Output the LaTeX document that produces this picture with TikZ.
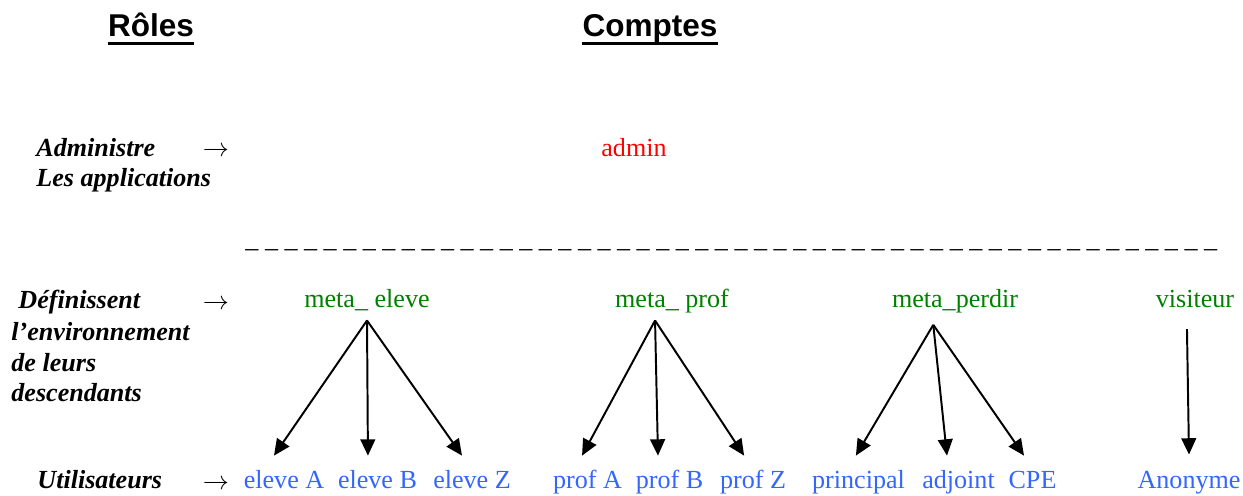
\documentclass[tikz,border=0pt]{standalone}
\usepackage{fontspec}
\setmainfont{Liberation Serif}
\newfontfamily\titrefont{Liberation Sans}
\usetikzlibrary{arrows.meta}
\definecolor{vert}{HTML}{008000}
\definecolor{bleu}{HTML}{3366FF}
\newcommand\corps{\fontsize{12}{14}\selectfont}
\tikzset{
  titre/.style={anchor=base, inner sep=0pt, font=\titrefont\bfseries\fontsize{14.5}{17}\selectfont},
  role/.style={anchor=base west, inner sep=0pt, font=\corps\bfseries\itshape},
  sens/.style={anchor=base, inner sep=0pt, font=\fontsize{13}{15}\selectfont},
  compte/.style={anchor=base, inner xsep=0pt, text height=8pt, text depth=2pt},
  meta/.style={compte, text=vert, inner ysep=4pt},
  util/.style={compte, text=bleu, inner ysep=6.7pt},
  fleche/.style={-{Triangle[length=7.5pt,width=6.8pt]}, line width=0.9pt}
}
\begin{document}
\begin{tikzpicture}[x=0.46pt,y=-0.46pt,font=\corps]
\useasboundingbox (0,0) rectangle (1243,496);
%titres
\node[titre] (ro) at (151,37) {Rôles};
\node[titre] (co) at (650,37) {Comptes};
\draw[line width=1.4pt] ([yshift=-3pt]ro.base west) -- ([yshift=-3pt]ro.base east);
\draw[line width=1.4pt] ([yshift=-3pt]co.base west) -- ([yshift=-3pt]co.base east);
%roles (colonne de gauche)
\node[role] (r1) at (36,156) {Administre};
\node[role] (r2) at (36,186) {Les applications};
\node[role] (r3) at (18,308) {Définissent};
\node[role] (r4) at (11,340) {l’environnement};
\node[role] (r5) at (11,371) {de leurs};
\node[role] (r6) at (11,401) {descendants};
\node[role] (r7) at (37,488) {Utilisateurs};
\node[sens] (s1) at (216,156) {$\rightarrow$};
\node[sens] (s2) at (216,309) {$\rightarrow$};
\node[sens] (s3) at (216,489) {$\rightarrow$};
%admin
\node[compte, text=red] (ad) at (634,156) {admin};
%separation
\node[anchor=base west, inner sep=0pt] (sep) at (245,247) {\_ \_ \_ \_ \_ \_ \_ \_ \_ \_ \_ \_ \_ \_ \_ \_ \_ \_ \_ \_ \_ \_ \_ \_ \_ \_ \_ \_ \_ \_ \_ \_ \_ \_ \_ \_ \_ \_ \_ \_ \_ \_ \_ \_ \_ \_ \_ \_ \_ \_};
%meta comptes
\node[meta] (me) at (367,307) {meta\_ eleve};
\node[meta] (mp) at (672,307) {meta\_ prof};
\node[meta] (md) at (955,307) {meta\_perdir};
\node[meta] (vi) at (1195,307) {visiteur};
%utilisateurs
\node[util] (ea) at (284,488) {eleve A};
\node[util] (eb) at (377.5,488) {eleve B};
\node[util] (ez) at (472,488) {eleve Z};
\node[util] (pa) at (587.5,488) {prof A};
\node[util] (pb) at (669.5,488) {prof B};
\node[util] (pz) at (753,488) {prof Z};
\node[util] (pr) at (858.5,488) {principal};
\node[util] (aj) at (958.5,488) {adjoint};
\node[util] (cp) at (1032.5,488) {CPE};
\node[util] (an) at (1189,488) {Anonyme};
%fleches
\draw[fleche] (me.south) -- ([xshift=-4.6pt]ea.north);
\draw[fleche] (me.south) -- ([xshift=-4.4pt]eb.north);
\draw[fleche] (me.south) -- ([xshift=-4.6pt]ez.north);
\draw[fleche] ([xshift=-7.8pt]mp.south) -- ([xshift=-2.5pt]pa.north);
\draw[fleche] ([xshift=-7.8pt]mp.south) -- ([xshift=-5.3pt]pb.north);
\draw[fleche] ([xshift=-7.8pt]mp.south) -- ([xshift=-4.1pt]pz.north);
\draw[fleche] ([xshift=-10pt,yshift=-2pt]md.south) -- ([xshift=-1.2pt]pr.north);
\draw[fleche] ([xshift=-10pt,yshift=-2pt]md.south) -- ([xshift=-5.3pt]aj.north);
\draw[fleche] ([xshift=-10pt,yshift=-2pt]md.south) -- ([xshift=-3.9pt]cp.north);
\draw[fleche] ([xshift=-3.7pt,yshift=-4pt]vi.south) -- ([yshift=0.5pt]an.north);
\end{tikzpicture}
\end{document}
